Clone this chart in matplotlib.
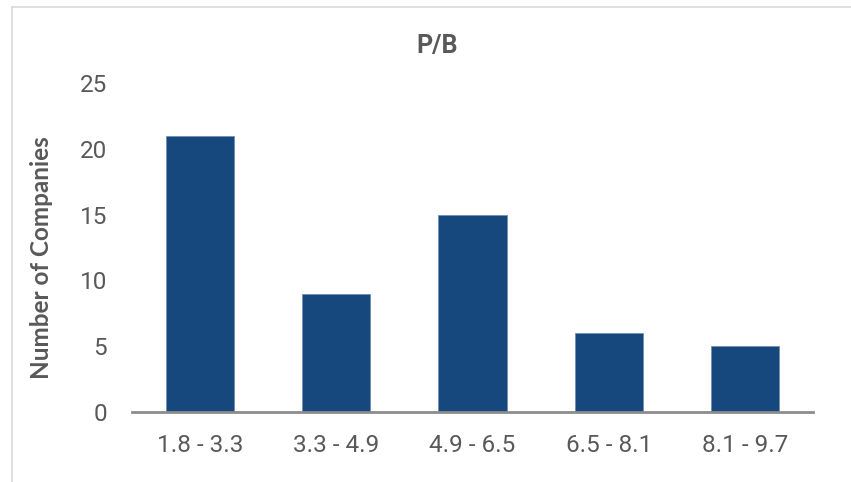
import matplotlib
matplotlib.use("Agg")
import matplotlib.pyplot as plt
from matplotlib.lines import Line2D
import numpy as np

# ── Data ────────────────────────────────────────────────────────────────
categories = ["1.8 - 3.3", "3.3 - 4.9", "4.9 - 6.5", "6.5 - 8.1", "8.1 - 9.7"]
counts = [21, 9, 15, 6, 5]
y_ticks = [0, 5, 10, 15, 20, 25]

BAR_COLOR = "#17487D"
TEXT_COLOR = "#595959"
AXIS_COLOR = "#8C8C8C"
FRAME_COLOR = "#D9D9D9"

plt.rcParams["font.family"] = ["Roboto", "DejaVu Sans"]

W, H = 851, 482
fig = plt.figure(figsize=(W / 100, H / 100), dpi=100)

# outer chart frame (top and left edges visible)
fig.add_artist(Line2D([12 / W, 1.0], [1 - 7 / H, 1 - 7 / H], color=FRAME_COLOR, lw=1.2,
                      transform=fig.transFigure))
fig.add_artist(Line2D([12 / W, 12 / W], [0.0, 1 - 7 / H], color=FRAME_COLOR, lw=1.2,
                      transform=fig.transFigure))

left, right = 132 / W, 813 / W
bottom, top = (H - 412) / H, (H - 83) / H
ax = fig.add_axes([left, bottom, right - left, top - bottom])

x = np.arange(len(categories))
ax.bar(x, counts, width=0.5, color=BAR_COLOR, edgecolor="#6F8FB3", linewidth=0.6, zorder=2)

ax.set_xlim(-0.5, len(categories) - 0.5)
ax.set_ylim(0, 25)
ax.set_yticks(y_ticks)
ax.set_xticks(x)
ax.set_xticklabels(categories)

for s in ["top", "right", "left"]:
    ax.spines[s].set_visible(False)
ax.spines["bottom"].set_color(AXIS_COLOR)
ax.spines["bottom"].set_linewidth(2)

ax.tick_params(axis="both", length=0, labelsize=17.5, colors=TEXT_COLOR)
ax.tick_params(axis="y", pad=18)
ax.tick_params(axis="x", pad=16)

fig.text(437 / W, 1 - 46 / H, "P/B", ha="center", va="center", fontsize=18,
         fontweight="bold", color=TEXT_COLOR)
fig.text(42 / W, 1 - 258 / H, "Number of Companies", ha="center", va="center",
         rotation=90, fontsize=17.5, fontweight="bold", color=TEXT_COLOR,
         family=["Lato", "DejaVu Sans"])

plt.savefig("out.png", dpi=100)
plt.close()
